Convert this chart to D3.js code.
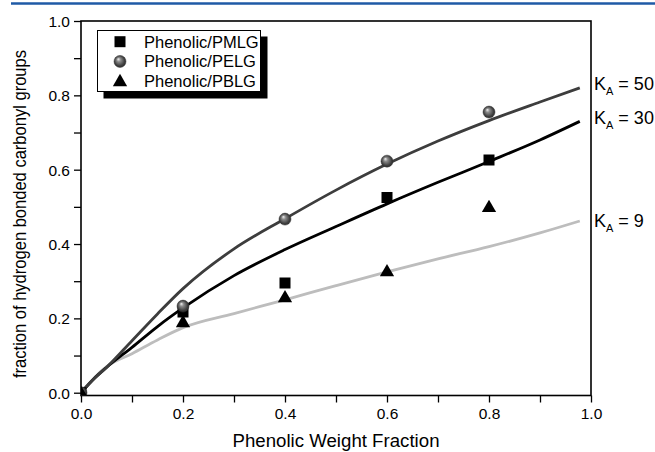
<!DOCTYPE html>
<html>
<head>
<meta charset="utf-8">
<script src="https://cdn.jsdelivr.net/npm/d3@7"></script>
<style>
  body { margin: 0; background: #fff; }
  svg { display: block; font-family: "Liberation Sans", Arial, sans-serif; }
</style>
</head>
<body>
<svg id="chart" width="655" height="452"></svg>
<script>
// measured points
const weightFraction = [0, 0.2, 0.4, 0.6, 0.8]
const pmlg = [0, 0.217, 0.295, 0.525, 0.626]
const pelg = [0, 0.233, 0.467, 0.623, 0.755]
const pblg = [0, 0.19, 0.257, 0.327, 0.50]

// model curves
const curveX = [0, 0.025, 0.05, 0.1, 0.15, 0.2, 0.3, 0.4, 0.5, 0.6, 0.7, 0.8, 0.9, 0.978]
const ka50 = [0, 0.037, 0.068, 0.14, 0.212, 0.28, 0.387, 0.468, 0.545, 0.615, 0.677, 0.732, 0.782, 0.82]
const ka30 = [0, 0.037, 0.068, 0.122, 0.178, 0.228, 0.315, 0.385, 0.447, 0.508, 0.566, 0.622, 0.68, 0.73]
const ka9 = [0, 0.039, 0.07, 0.105, 0.142, 0.175, 0.213, 0.25, 0.288, 0.325, 0.36, 0.393, 0.43, 0.462]

const xTicks = [0, 0.1, 0.2, 0.3, 0.4, 0.5, 0.6, 0.7, 0.8, 0.9, 1.0]
const yTicks = [0, 0.1, 0.2, 0.3, 0.4, 0.5, 0.6, 0.7, 0.8, 0.9, 1.0]

const svg = d3.select("#chart")

const plotLeft = 81, plotRight = 591, plotTop = 21, plotBottom = 395.5
const yMin = -0.0075

const x = d3.scaleLinear().domain([0, 1]).range([plotLeft, plotRight])
const y = d3.scaleLinear().domain([yMin, 1]).range([plotBottom, plotTop])

// blue rule at the top of the page
svg.append("line")
  .attr("x1", 11).attr("x2", 655)
  .attr("y1", 3.5).attr("y2", 3.5)
  .attr("stroke", "#1f5aa6")
  .attr("stroke-width", 2.5)

const defs = svg.append("defs")
defs.append("clipPath").attr("id", "plotClip")
  .append("rect")
  .attr("x", plotLeft).attr("y", plotTop)
  .attr("width", plotRight - plotLeft).attr("height", plotBottom - plotTop)

let grad = defs.append("radialGradient")
  .attr("id", "sphere")
  .attr("cx", "50%").attr("cy", "50%").attr("r", "55%")
  .attr("fx", "35%").attr("fy", "30%")
grad.append("stop").attr("offset", "0%").attr("stop-color", "#f2f2f2")
grad.append("stop").attr("offset", "30%").attr("stop-color", "#8c8c8c")
grad.append("stop").attr("offset", "75%").attr("stop-color", "#3f3f3f")
grad.append("stop").attr("offset", "100%").attr("stop-color", "#2a2a2a")

// axes
const xAxis = d3.axisBottom(x)
  .tickValues(xTicks)
  .tickSize(7)
  .tickPadding(5)
  .tickFormat((d, i) => i % 2 === 0 ? d3.format(".1f")(d) : "")

const yAxis = d3.axisLeft(y)
  .tickValues(yTicks)
  .tickSize(7)
  .tickPadding(4)
  .tickFormat((d, i) => i % 2 === 0 ? d3.format(".1f")(d) : "")

const gx = svg.append("g").attr("transform", "translate(0," + plotBottom + ")").call(xAxis)
const gy = svg.append("g").attr("transform", "translate(" + plotLeft + ",0)").call(yAxis)

;[gx, gy].forEach(g => {
  g.select(".domain").remove()
  g.selectAll(".tick line").attr("stroke", "#000").attr("stroke-width", 1.3)
  g.selectAll(".tick text")
    .attr("fill", "#000")
    .style("font-size", "15.5px")
    .style("font-family", "'Liberation Sans', Arial, sans-serif")
})
gy.selectAll(".tick text").attr("dy", "0.36em")

// frame
svg.append("rect")
  .attr("x", plotLeft).attr("y", plotTop)
  .attr("width", plotRight - plotLeft).attr("height", plotBottom - plotTop)
  .attr("fill", "none")
  .attr("stroke", "#000")
  .attr("stroke-width", 1.6)

// model curves
const line = d3.line()
  .x((d, i) => x(curveX[i]))
  .y(d => y(d))
  .curve(d3.curveMonotoneX)

const plot = svg.append("g").attr("clip-path", "url(#plotClip)")

const curves = [
  { values: ka9, color: "#bdbdbd" },
  { values: ka30, color: "#000000" },
  { values: ka50, color: "#3d3d3d" }
]
curves.forEach(c => {
  plot.append("path")
    .attr("d", line(c.values))
    .attr("fill", "none")
    .attr("stroke", c.color)
    .attr("stroke-width", 2.8)
})

// markers
const squarePath = d3.symbol(d3.symbolSquare, 121)()
const trianglePath = d3.symbol(d3.symbolTriangle, 88)()

plot.selectAll(".sq").data(pmlg).enter().append("path")
  .attr("d", squarePath)
  .attr("transform", (d, i) => "translate(" + x(weightFraction[i]) + "," + y(d) + ")")
  .attr("fill", "#000")

plot.selectAll(".sph").data(pelg).enter().append("circle")
  .attr("cx", (d, i) => x(weightFraction[i]))
  .attr("cy", d => y(d))
  .attr("r", 6)
  .attr("fill", "url(#sphere)")
  .attr("stroke", "#333")
  .attr("stroke-width", 0.5)

plot.selectAll(".tri").data(pblg).enter().append("path")
  .attr("d", trianglePath)
  .attr("transform", (d, i) => "translate(" + x(weightFraction[i]) + "," + (y(d) + 1) + ")")
  .attr("fill", "#000")

// legend
const lg = svg.append("g")
lg.append("rect")
  .attr("x", 103.5).attr("y", 36.5).attr("width", 164).attr("height", 62)
  .attr("fill", "#000")
lg.append("rect")
  .attr("x", 97.5).attr("y", 30.5).attr("width", 163).attr("height", 61)
  .attr("fill", "#fff").attr("stroke", "#000").attr("stroke-width", 1)

const legendItems = ["Phenolic/PMLG", "Phenolic/PELG", "Phenolic/PBLG"]
legendItems.forEach((name, i) => {
  let cy = 41.7 + i * 19.7
  if (i === 0) {
    lg.append("path").attr("d", squarePath)
      .attr("transform", "translate(120," + cy + ")").attr("fill", "#000")
  } else if (i === 1) {
    lg.append("circle").attr("cx", 120).attr("cy", cy).attr("r", 6)
      .attr("fill", "url(#sphere)").attr("stroke", "#333").attr("stroke-width", 0.5)
  } else {
    lg.append("path").attr("d", trianglePath)
      .attr("transform", "translate(120," + (cy + 1) + ")").attr("fill", "#000")
  }
  lg.append("text")
    .attr("x", 144).attr("y", cy + 6)
    .style("font-size", "16.5px")
    .text(name)
})

// K_A labels
const kLabels = [
  { text: " = 50", base: 90 },
  { text: " = 30", base: 124 },
  { text: " = 9", base: 227 }
]
kLabels.forEach(k => {
  let t = svg.append("text")
    .attr("x", 594).attr("y", k.base)
    .style("font-size", "18px")
  t.append("tspan").text("K")
  t.append("tspan").attr("dy", 5).style("font-size", "11px").text("A")
  t.append("tspan").attr("dy", -5).text(k.text)
})

// axis titles
svg.append("text")
  .attr("x", 336).attr("y", 447)
  .attr("text-anchor", "middle")
  .attr("textLength", 207)
  .attr("lengthAdjust", "spacingAndGlyphs")
  .style("font-size", "17.5px")
  .text("Phenolic Weight Fraction")

svg.append("text")
  .attr("transform", "translate(26," + 214 + ") rotate(-90)")
  .attr("text-anchor", "middle")
  .attr("textLength", 328)
  .attr("lengthAdjust", "spacingAndGlyphs")
  .style("font-size", "18.5px")
  .text("fraction of hydrogen bonded carbonyl groups")
</script>
</body>
</html>
